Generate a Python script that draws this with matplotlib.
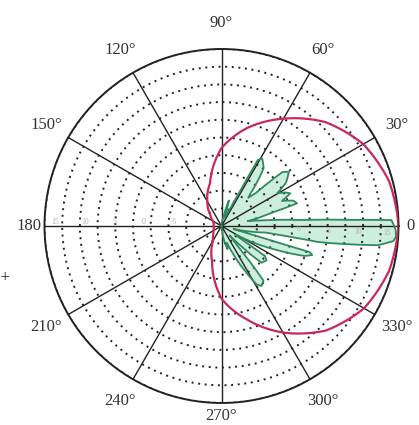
import numpy as np
import matplotlib
matplotlib.use("Agg")
import matplotlib.pyplot as plt

# 角度刻度
theta_ticks = [0, 30, 60, 90, 120, 150, 180, 210, 240, 270, 300, 330]
theta_labels = ['0', '30°', '60°', '90°', '120°', '150°', '180',
                '210°', '240°', '270°', '300°', '330°']

# 径向（dB）淡色刻度
db_left = [15, 10, 5, 0, -5]
db_right = [0, 5, 10, 15]

# 红色曲线（心形方向图），角度 / 半径（格）
red_deg = [0, 15, 30, 45, 60, 75, 90, 105, 120, 135, 150, 165,
           180, 195, 210, 225, 240, 255, 270, 285, 300, 315, 330, 345]
red_r = [10.0, 9.8, 9.25, 8.3, 7.0, 5.75, 4.4, 2.5, 1.6, 0.9, 0.55, 0.45,
         0.45, 0.45, 0.5, 0.65, 0.95, 2.05, 4.1, 5.45, 6.95, 8.35, 9.3, 9.8]

# 绿色曲线（多瓣方向图）轮廓
green_deg = [-90, -84, -79, -75.5, -72, -68, -63, -59, -56.3, -52.5, -51.5, -51,
             -49, -46, -42.5, -37.3, -34.7, -34, -33, -30, -24, -19.8, -17.7,
             -16.5, -16.3, -15.5, -14, -8.5, -9.4, -7.0, -5.0, -3.5, -1.5, 0.5,
             2.0, 2.7, 4.3, 7.5, 10.5, 14.8, 16.7, 19.5, 22.5, 25.4, 27.5, 30.4,
             34, 38.9, 41.5, 43.9, 46.5, 48.4, 54, 59, 61.2, 62, 64.5, 70, 74,
             78, 85, 90]
green_r = [0.0, 0.25, 0.95, 1.35, 1.0, 1.6, 2.7, 3.85, 4.07, 3.9, 2.6, 1.2,
           0.7, 1.5, 3.07, 3.2, 2.98, 1.8, 0.9, 1.2, 3.2, 5.0, 5.38,
           5.2, 3.0, 1.2, 0.7, 2.5, 5.55, 8.9, 9.75, 9.88, 9.85, 9.72,
           9.6, 7.3, 4.47, 2.4, 1.5, 2.9, 4.46, 4.3, 3.7, 4.3, 4.1, 3.65,
           4.4, 4.89, 4.6, 2.66, 2.2, 2.47, 4.05, 4.46, 4.25, 2.1, 0.7, 0.5, 1.5,
           0.5, 0.15, 0.0]

STEPS = 24  # 让极坐标下的线段按弧线绘制

fig = plt.figure(figsize=(4.19, 4.25), dpi=100)
ax = fig.add_axes([0.1062, 0.0518, 0.8449, 0.8329], projection='polar')

ax.set_ylim(0, 10)
ax.set_yticks(range(1, 11))
ax.set_yticklabels([])
ax.set_xticks(np.radians(theta_ticks))
ax.set_xticklabels([])
ax.yaxis.grid(True, color='#222222', linestyle=(0, (1, 2.4)), linewidth=1.4)
ax.xaxis.grid(True, color='#222222', linestyle='-', linewidth=1.0)
ax.spines['polar'].set_color('#222222')
ax.spines['polar'].set_linewidth(1.4)
ax.tick_params(length=0)

# 绿色：浅色填充 + 深绿轮廓
gth = np.radians(green_deg)
polys = ax.fill(gth, green_r, facecolor='#cdeedc', edgecolor='none', zorder=1)
for p in polys:
    p.get_path()._interpolation_steps = STEPS
gline, = ax.plot(gth, green_r, color='#2e8b5e', linewidth=1.3, zorder=3)
gline._path._interpolation_steps = STEPS

# 红色：闭合曲线
rth = np.radians(red_deg + [red_deg[0] + 360])
rline, = ax.plot(rth, red_r + [red_r[0]], color='#c8285a', linewidth=1.6, zorder=4)
rline._path._interpolation_steps = STEPS

# 角度标签
label_pad = {0: 10.7, 180: 10.85, 270: 10.75}
for deg, lab in zip(theta_ticks, theta_labels):
    ax.text(np.radians(deg), label_pad.get(deg, 11.45), lab,
            family='Liberation Serif', fontsize=12, color='#333333',
            ha='center', va='center', clip_on=False)

# 径向 dB 刻度（很淡）
def db_to_r(v):
    return 4.38 + v / 3.0

for v in db_left:
    ax.text(np.pi, db_to_r(v), str(v), family='Liberation Serif', fontsize=5.5,
            color='#b0b0b0', ha='center', va='bottom')
for v in db_right:
    ax.text(np.radians(-2.5), db_to_r(v), str(v), family='Liberation Serif',
            fontsize=5.5, color='#b0b0b0', ha='center', va='center')

fig.text(0.0, 1 - 277 / 425, '+', fontsize=9, color='#444444',
         ha='left', va='center')

fig.savefig('out.png', dpi=100, facecolor='white')
